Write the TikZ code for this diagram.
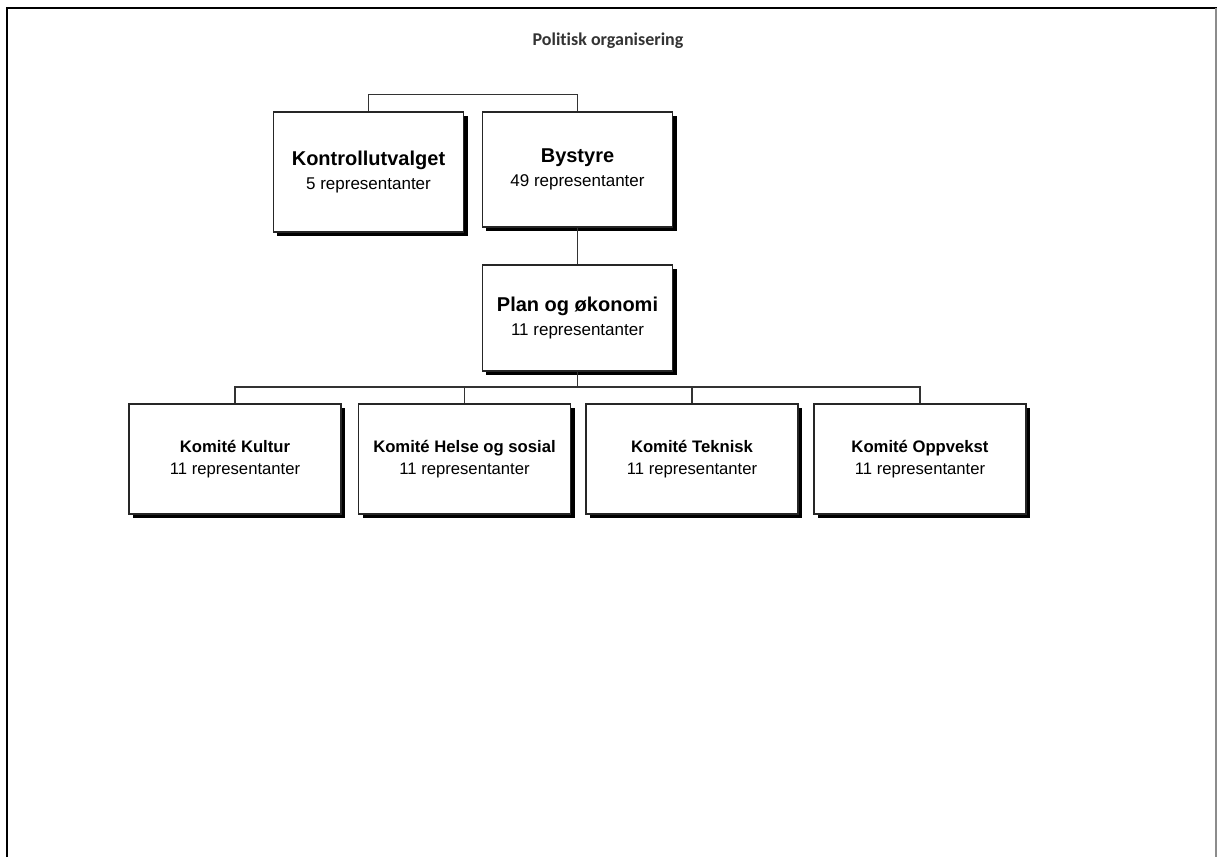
\documentclass[tikz,border=0pt]{standalone}
\usepackage{fontspec}
\setmainfont{Liberation Sans}
\newfontfamily\titlefont[Ligatures=NoCommon]{Carlito}
\usetikzlibrary{positioning,shadows}

\begin{document}
\begin{tikzpicture}[x=0.75pt,y=-0.75pt]
  \tikzset{
org box/.style={rectangle,draw=black!85,fill=white,line width=0.9pt,inner sep=0,align=center,
  drop shadow={shadow xshift=3pt,shadow yshift=-3pt,fill=black,opacity=1}},
top box/.style={org box,minimum width=143pt,font=\fontsize{12.75}{18}\selectfont},
low box/.style={org box,minimum width=159pt,minimum height=82.5pt,font=\fontsize{12.5}{16.5}\selectfont},
link/.style={draw=black!80,line width=0.8pt}
}
  \useasboundingbox (0,0) rectangle (1217,857);
  % frame
  \draw[line width=1.8pt] (7,857) -- (7,8) -- (1217,8);
  \draw[black!45,line width=0.8pt] (1216,8) -- (1216,857);
  \node[font=\titlefont\bfseries\fontsize{13.5}{16}\selectfont,text=black!80] (title) at (608,41) {Politisk organisering};
  % boxes
  \node[top box,minimum height=90pt] (kontroll) at (368.5,172)
    {{\bfseries\fontsize{15}{18}\selectfont Kontrollutvalget}\\5 representanter};
  \node[top box,minimum height=86.25pt] (bystyre) at (577.5,169.5)
    {{\bfseries\fontsize{15}{18}\selectfont Bystyre}\\49 representanter};
  \node[top box,minimum height=79.5pt] (plan) at (577.5,318)
    {{\bfseries\fontsize{15}{18}\selectfont Plan og økonomi}\\11 representanter};
  \node[low box] (kultur) at (235,459) {\textbf{Komité Kultur}\\11 representanter};
  \node[low box] (helse) at (464.5,459) {\textbf{Komité Helse og sosial}\\11 representanter};
  \node[low box] (teknisk) at (692,459) {\textbf{Komité Teknisk}\\11 representanter};
  \node[low box] (oppvekst) at (920,459) {\textbf{Komité Oppvekst}\\11 representanter};
  % connectors
  \draw[link] (kontroll.north) -- ++(0,-17) -| (bystyre.north);
  \draw[link] (bystyre.south) -- (plan.north);
  \coordinate (split) at (577.5,387);
  \draw[link] (plan.south) -- (split);
  \foreach \k in {kultur,helse,teknisk,oppvekst}
    \draw[link] (split) -| (\k.north);
\end{tikzpicture}
\end{document}
